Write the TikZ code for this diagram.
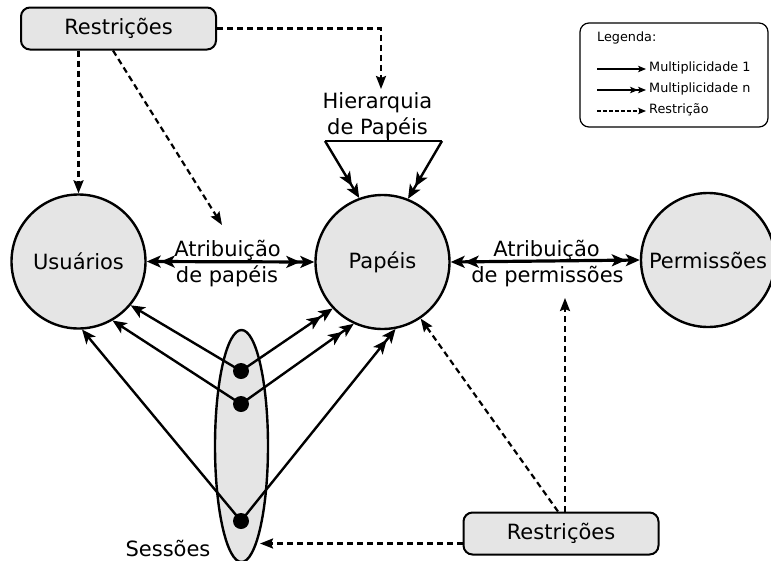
\documentclass[tikz,border=0pt]{standalone}
\usepackage{fontspec}
\setmainfont{DejaVu Sans}
\usetikzlibrary{arrows.meta,shapes.geometric}
\definecolor{boxgray}{RGB}{229,229,229}
\newcommand\biglabel{\fontsize{21}{25}\selectfont}
\newcommand\leglabel{\fontsize{12.8}{15}\selectfont}
\begin{document}
\begin{tikzpicture}[x=1pt,y=-1pt,
  entity/.style={circle,draw,line width=2.4pt,fill=boxgray,minimum size=134pt,inner sep=0pt,font=\biglabel},
  rbox/.style={draw,line width=2pt,fill=boxgray,rounded corners=9pt,minimum width=195pt,minimum height=42pt,inner sep=0pt,font=\biglabel},
  label/.style={font=\biglabel,inner sep=0pt,anchor=base},
  dot/.style={circle,fill=black,minimum size=16pt,inner sep=0pt},
  one/.style={line width=2.4pt,-{Stealth[length=14pt,width=12pt,inset=3.5pt]}},
  many/.style={line width=2.4pt,-{Stealth[length=14pt,width=12pt,inset=3.5pt]Stealth[length=14pt,width=12pt,inset=3.5pt]}},
  bimany/.style={line width=3.2pt,{Stealth[length=14pt,width=12pt,inset=3.5pt]Stealth[length=14pt,width=12pt,inset=3.5pt]}-{Stealth[length=14pt,width=12pt,inset=3.5pt]Stealth[length=14pt,width=12pt,inset=3.5pt]}},
  restr/.style={line width=2.2pt,dash pattern=on 6pt off 4pt,-{Stealth[length=13pt,width=10pt,inset=2pt]}},
  legline/.style={line width=1.2pt},
  legone/.style={-{Stealth[length=8pt,width=6.5pt,inset=2pt]}},
  legmany/.style={-{Stealth[length=8pt,width=6.5pt,inset=2pt]Stealth[length=8pt,width=6.5pt,inset=2pt]}},
  legtext/.style={font=\leglabel,inner sep=3pt,anchor=mid west}
]
\useasboundingbox (0,0) rectangle (771,560);

% main entities
\node[entity] (usr)  at (78.5,261.5) {Usuários};
\node[entity] (pap)  at (382.5,262)  {Papéis};
\node[entity] (perm) at (708,260)    {Permissões};

% constraint boxes
\node[rbox] (rtop) at (118.5,28.5) {Restrições};
\node[rbox] (rbot) at (561,533.5)  {Restrições};

% sessions
\node[ellipse,draw,line width=2.4pt,fill=boxgray,minimum width=53pt,minimum height=232pt,inner sep=0pt] (ses) at (241.5,446) {};
\node[label] (seslbl) at (168,556) {Sessões};

% assignment relations
\node[label] (ap1) at (227.5,256) {Atribuição};
\node[label] (ap2) at (227,282)   {de papéis};
\node[label] (aq1) at (546.5,256) {Atribuição};
\node[label] (aq2) at (547.5,282) {de permissões};
\draw[bimany] (usr.east) -- (pap.west);
\draw[bimany] (pap.east) -- (perm.west);

% role hierarchy
\node[label] (h1) at (377.5,108) {Hierarquia};
\node[label] (h2) at (377.5,134) {de Papéis};
\coordinate (hl) at (325,141);
\coordinate (hr) at (442,141);
\coordinate (htick) at (388,131);
\draw[line width=2.4pt] (hl) -- (hr);
\draw[line width=1.6pt] (htick) -- (htick |- hl);
\draw[many] (hl) -- (pap.110.6);
\draw[many] (hr) -- (pap.68.6);

% session dots and their links
\coordinate (s1c) at (241,371);
\coordinate (s2c) at (241,404);
\coordinate (s3c) at (241,521);
\draw[one]  (s1c) -- (usr.-40);
\draw[one]  (s2c) -- (usr.-60);
\draw[one]  (s3c) -- (usr.-87);
\draw[many] (s1c) -- (pap.-137.7);
\draw[many] (s2c) -- (pap.-115.8);
\draw[many] (s3c) -- (pap.-79.3);
\node[dot] (s1) at (s1c) {};
\node[dot] (s2) at (s2c) {};
\node[dot] (s3) at (s3c) {};

% constraints
\coordinate (hiertop) at (381,89);
\coordinate (uaend) at (222,225);
\coordinate (paend) at (565,298);
\draw[restr] (rtop.east) -| (hiertop);
\draw[restr] (rtop.south -| usr.north) -- (usr.north);
\draw[restr] ([xshift=-5.5pt]rtop.south) -- (uaend);
\draw[restr] ([yshift=-10pt]rbot.west) -- ([yshift=-10pt]rbot.west -| ses.-78);
\draw[restr] ([xshift=-3pt]rbot.north) -- (pap.-56.6);
\draw[restr] ([xshift=4pt]rbot.north) -- (paend);

% legend
\node[draw,line width=1.2pt,rounded corners=9pt,minimum width=188pt,minimum height=104pt,inner sep=0pt] (leg) at (674,75) {};
\node[font=\leglabel,inner sep=0pt,anchor=base west] (legt) at (597,41) {Legenda:};
\coordinate (l1s) at (597,69);
\coordinate (l2s) at (597,90);
\coordinate (l3s) at (597,111);
\node[legtext] (l1t) at (646,69)  {Multiplicidade 1};
\node[legtext] (l2t) at (646,90)  {Multiplicidade n};
\node[legtext] (l3t) at (646,111) {Restrição};
\draw[legline,legone] (l1s) -- (l1s -| l1t.west);
\draw[legline,legmany] (l2s) -- (l2s -| l2t.west);
\draw[legline,dash pattern=on 3.5pt off 2.5pt,legone] (l3s) -- (l3s -| l3t.west);
\end{tikzpicture}
\end{document}
